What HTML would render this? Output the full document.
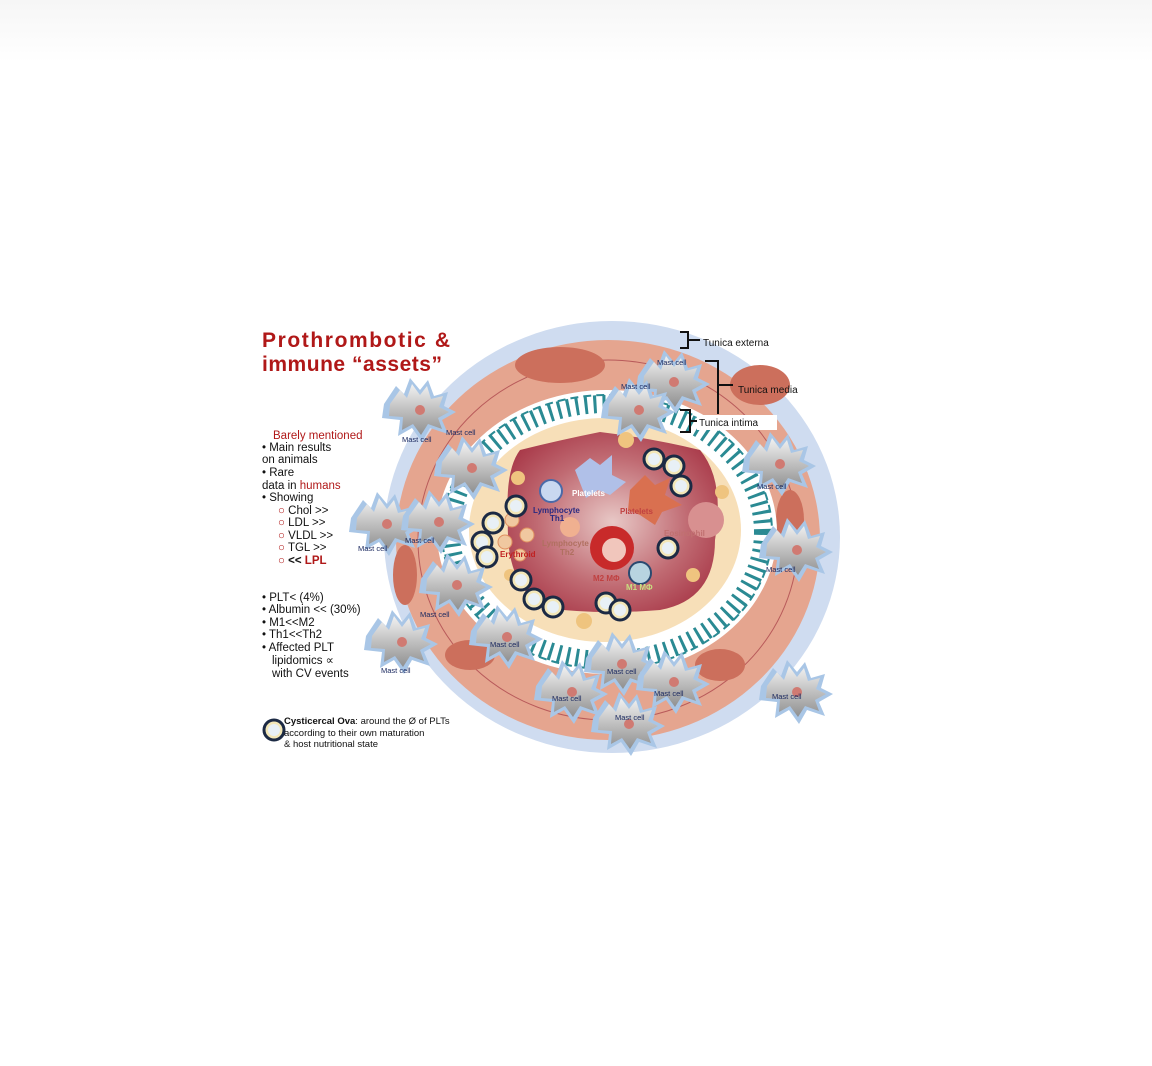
<!DOCTYPE html>
<html><head><meta charset="utf-8"><style>
html,body{margin:0;padding:0;background:#fff;width:1152px;height:1066px;overflow:hidden;font-family:"Liberation Sans",sans-serif}
.top{position:absolute;left:0;top:0;width:1152px;height:62px;background:linear-gradient(#f6f6f6,#fdfdfd 80%,#fff)}
svg{position:absolute;left:0;top:0}
</style></head><body>
<div class="top"></div>
<svg width="1152" height="1066" viewBox="0 0 1152 1066" font-family="Liberation Sans, sans-serif">
<defs>
<radialGradient id="lum" cx="0.5" cy="0.5" r="0.6"><stop offset="0" stop-color="#e8c8c6"/><stop offset="0.6" stop-color="#c06a72"/><stop offset="1" stop-color="#a83848"/></radialGradient>
<linearGradient id="mg" x1="0" y1="0" x2="0" y2="1"><stop offset="0" stop-color="#f2f2f2"/><stop offset="1" stop-color="#8f8f8f"/></linearGradient>
<g id="mast">
<path d="M-34,-4 L-22,-22 L-14,-14 L-8,-30 L2,-18 L10,-28 L16,-12 L30,-16 L26,-2 L38,4 L24,12 L30,26 L12,20 L4,34 L-6,20 L-20,28 L-18,12 L-36,10 Z" fill="#a9c6e6"/>
<path d="M-28,-4 L-18,-18 L-11,-10 L-6,-24 L2,-13 L9,-22 L13,-9 L25,-12 L21,-1 L31,4 L20,10 L24,21 L10,16 L3,27 L-5,16 L-16,22 L-15,9 L-29,8 Z" fill="url(#mg)"/>
<circle cx="2" cy="2" r="5" fill="#d07a72"/>
</g>
<g id="egg"><circle r="10" fill="#f3e7b8" stroke="#1c2a44" stroke-width="3"/><circle r="6" fill="#e8f0f6"/></g>
</defs>
<ellipse cx="612" cy="537" rx="228" ry="216" fill="#cfdcf0"/>
<ellipse cx="608" cy="540" rx="212" ry="200" fill="#e5a58f"/>
<ellipse cx="608" cy="540" rx="190" ry="180" fill="none" stroke="#b85a5a" stroke-width="1"/>
<ellipse cx="560" cy="365" rx="45" ry="18" fill="#cc6f5c"/>
<ellipse cx="760" cy="385" rx="30" ry="20" fill="#cc6f5c"/>
<ellipse cx="405" cy="575" rx="12" ry="30" fill="#cc6f5c"/>
<ellipse cx="470" cy="655" rx="25" ry="15" fill="#cc6f5c"/>
<ellipse cx="790" cy="520" rx="14" ry="30" fill="#cc6f5c"/>
<ellipse cx="720" cy="665" rx="25" ry="16" fill="#cc6f5c"/>
<ellipse cx="607" cy="532" rx="170" ry="142" fill="#fff"/>
<ellipse cx="607" cy="532" rx="156" ry="128" fill="none" stroke="#2a8a93" stroke-width="18" stroke-dasharray="3 6"/>
<ellipse cx="607" cy="532" rx="165" ry="137" fill="none" stroke="#2a8a93" stroke-width="2" stroke-dasharray="8 5"/>
<ellipse cx="607" cy="532" rx="146" ry="119" fill="#fff"/>
<ellipse cx="605" cy="530" rx="136" ry="112" fill="#f7dfb8"/>
<path d="M520,450 Q560,440 600,432 Q650,438 700,450 Q725,480 715,540 Q715,600 660,610 Q600,615 545,608 Q505,585 508,520 Q505,470 520,450Z" fill="url(#lum)"/>
<g fill="#efc47f"><circle cx="518" cy="478" r="7"/><circle cx="626" cy="440" r="8"/><circle cx="722" cy="492" r="7"/><circle cx="693" cy="575" r="7"/><circle cx="584" cy="621" r="8"/><circle cx="510" cy="575" r="6"/></g>
<circle cx="551" cy="491" r="11" fill="#c9d8f0" stroke="#4a6aa8" stroke-width="2"/>
<circle cx="570" cy="527" r="10" fill="#f0b090"/>
<circle cx="612" cy="548" r="22" fill="#c82a2a"/><circle cx="614" cy="550" r="12" fill="#f1c6bc"/>
<circle cx="640" cy="573" r="11" fill="#b8d4e0" stroke="#2a4a70" stroke-width="2"/>
<circle cx="706" cy="520" r="18" fill="#d89090"/>
<path d="M575,470 L590,458 L600,465 L612,455 L612,475 L626,482 L610,495 L598,490 L586,498 Z" fill="#b0c0e8"/>
<path d="M630,490 L645,475 L655,485 L670,478 L665,495 L682,505 L662,512 L655,525 L640,515 L628,510 Z" fill="#d97050"/>
<g fill="#f0c8a0" stroke="#e09060"><circle cx="512" cy="520" r="7"/><circle cx="527" cy="535" r="7"/><circle cx="505" cy="542" r="7"/><circle cx="520" cy="555" r="6"/></g>
<g>
<use href="#egg" x="516" y="506"/><use href="#egg" x="493" y="523"/><use href="#egg" x="482" y="542"/><use href="#egg" x="487" y="557"/>
<use href="#egg" x="521" y="580"/><use href="#egg" x="534" y="599"/><use href="#egg" x="553" y="607"/>
<use href="#egg" x="606" y="603"/><use href="#egg" x="620" y="610"/><use href="#egg" x="668" y="548"/>
<use href="#egg" x="654" y="459"/><use href="#egg" x="674" y="466"/><use href="#egg" x="681" y="486"/>
<use href="#egg" x="274" y="730"/>
</g>
<g font-size="8" font-weight="bold">
<text x="572" y="496" fill="#fff">Platelets</text>
<text x="533" y="513" fill="#2a2a80">Lymphocyte</text><text x="550" y="521" fill="#2a2a80">Th1</text>
<text x="542" y="546" fill="#b07060">Lymphocyte</text><text x="560" y="555" fill="#b07060">Th2</text>
<text x="620" y="514" fill="#c04040">Platelets</text>
<text x="664" y="536" fill="#c07070">Eosinophil</text>
<text x="500" y="557" fill="#c02020">Erythroid</text>
<text x="593" y="581" fill="#c04040">M2 MΦ</text>
<text x="626" y="590" fill="#c8e080">M1 MΦ</text>
</g>
<g>
<use href="#mast" x="418" y="408"/><use href="#mast" x="470" y="466"/><use href="#mast" x="385" y="522"/>
<use href="#mast" x="437" y="520"/><use href="#mast" x="455" y="583"/><use href="#mast" x="400" y="640"/>
<use href="#mast" x="505" y="635"/><use href="#mast" x="570" y="690"/><use href="#mast" x="620" y="662"/>
<use href="#mast" x="672" y="680"/><use href="#mast" x="627" y="722"/><use href="#mast" x="672" y="380"/>
<use href="#mast" x="637" y="408"/><use href="#mast" x="778" y="462"/><use href="#mast" x="795" y="548"/>
<use href="#mast" x="795" y="690"/>
</g>
<g font-size="7.5" fill="#1c2a60">
<text x="402" y="442">Mast cell</text><text x="446" y="435">Mast cell</text><text x="358" y="551">Mast cell</text>
<text x="405" y="543">Mast cell</text><text x="420" y="617">Mast cell</text><text x="381" y="673">Mast cell</text>
<text x="490" y="647">Mast cell</text><text x="552" y="701">Mast cell</text><text x="607" y="674">Mast cell</text>
<text x="654" y="696">Mast cell</text><text x="615" y="720">Mast cell</text><text x="657" y="365">Mast cell</text>
<text x="621" y="389">Mast cell</text><text x="757" y="489">Mast cell</text><text x="766" y="572">Mast cell</text>
<text x="772" y="699">Mast cell</text>
</g>
<g stroke="#111" stroke-width="2" fill="none">
<path d="M680,332 H688 V348 H680 M688,340 H700"/>
<path d="M705,361 H718 V414 M718,385 H733"/>
<path d="M680,410 H690 V432 H680 M690,421 H698"/>
</g>
<rect x="697" y="415" width="80" height="15" fill="#fff"/>
<g font-size="10" fill="#111">
<text x="703" y="346">Tunica externa</text>
<text x="738" y="393">Tunica media</text>
<text x="699" y="426">Tunica intima</text>
</g>
<g fill="#b01818" font-size="21" font-weight="bold"><text x="262" y="347" textLength="188">Prothrombotic &amp;</text><text x="262" y="371" textLength="180">immune “assets”</text></g>
<g font-size="11.5" fill="#111">
<text x="273" y="439" fill="#b01818">Barely mentioned</text>
<text x="262" y="451">• Main results</text>
<text x="262" y="463">on animals</text>
<text x="262" y="476">• Rare</text>
<text x="262" y="489">data in <tspan fill="#b01818">humans</tspan></text>
<text x="262" y="501">•   Showing</text>
<text x="278" y="514"><tspan fill="#b01818">○</tspan>   Chol &gt;&gt;</text>
<text x="278" y="526"><tspan fill="#b01818">○</tspan>   LDL &gt;&gt;</text>
<text x="278" y="539"><tspan fill="#b01818">○</tspan>   VLDL &gt;&gt;</text>
<text x="278" y="551"><tspan fill="#b01818">○</tspan>   TGL &gt;&gt;</text>
<text x="278" y="564"><tspan fill="#b01818">○</tspan>   <tspan font-weight="bold">&lt;&lt; <tspan fill="#b01818">LPL</tspan></tspan></text>
<text x="262" y="601">• PLT&lt; (4%)</text>
<text x="262" y="613">• Albumin &lt;&lt; (30%)</text>
<text x="262" y="626">• M1&lt;&lt;M2</text>
<text x="262" y="638">• Th1&lt;&lt;Th2</text>
<text x="262" y="651">• Affected PLT</text>
<text x="272" y="664">lipidomics ∝</text>
<text x="272" y="677">with CV events</text>
</g>
<g font-size="9.5" fill="#111">
<text x="284" y="724"><tspan font-weight="bold">Cysticercal Ova</tspan>: around the  Ø  of PLTs</text>
<text x="284" y="736">according to their own maturation</text>
<text x="284" y="747">&amp; host nutritional state</text>
</g>
</svg>
</body></html>
